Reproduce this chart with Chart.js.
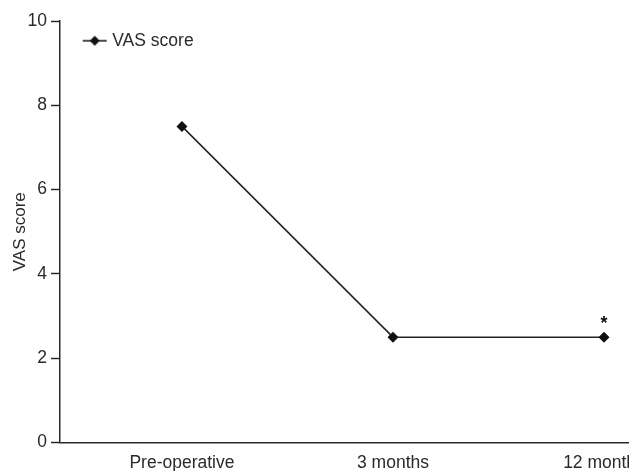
<!DOCTYPE html>
<html>
<head>
<meta charset="utf-8">
<script src="https://cdn.jsdelivr.net/npm/chart.js@4/dist/chart.umd.min.js"></script>
<style>
html,body{margin:0;padding:0;background:#fff;overflow:hidden;}
#wrap{width:629px;height:471px;overflow:hidden;position:relative;}
#c{position:absolute;left:0;top:0;}
</style>
</head>
<body>
<div id="wrap"><canvas id="c" width="700" height="471"></canvas></div>
<script>
const categories = ['Pre-operative', '3 months', '12 months'];
const vasScore = [7.5, 2.5, 2.5];
const significance = ['', '', '*'];
const yTicks = [0, 2, 4, 6, 8, 10];
const seriesName = 'VAS score';

const FONT = 'Liberation Sans, Arial, sans-serif';
const INK = '#2a2a2a';

// legend symbol: short line with a diamond in the middle
const sym = document.createElement('canvas');
sym.width = 26; sym.height = 12;
(function(){
  const g = sym.getContext('2d');
  g.strokeStyle = '#111'; g.lineWidth = 1.5;
  g.beginPath(); g.moveTo(1, 6); g.lineTo(25, 6); g.stroke();
  g.fillStyle = '#111';
  g.beginPath(); g.moveTo(13, 1); g.lineTo(18, 6); g.lineTo(13, 11); g.lineTo(8, 6); g.closePath(); g.fill();
})();

const starPlugin = {
  id: 'stars',
  beforeDraw(chart) {
    const lg = chart.legend;
    if (lg) {
      const dx = 76 - lg.left, dy = 22 - lg.top;
      lg.left += dx; lg.right += dx; lg.top += dy; lg.bottom += dy;
    }
  },
  afterDatasetsDraw(chart) {
    const meta = chart.getDatasetMeta(0);
    const ctx = chart.ctx;
    ctx.save();
    ctx.fillStyle = '#111';
    ctx.font = 'bold 18px ' + FONT;
    ctx.textAlign = 'center';
    ctx.textBaseline = 'middle';
    meta.data.forEach((pt, i) => {
      if (significance[i]) ctx.fillText(significance[i], pt.x, pt.y - 13);
    });
    ctx.restore();
  }
};

new Chart(document.getElementById('c'), {
  type: 'line',
  data: {
    datasets: [{
      label: seriesName,
      data: vasScore.map((v, i) => ({x: i, y: v})),
      borderColor: '#222',
      borderWidth: 1.5,
      backgroundColor: '#111',
      pointBackgroundColor: '#111',
      pointBorderColor: '#111',
      pointStyle: 'rectRot',
      pointRadius: 5.5,
      pointBorderWidth: 0,
      tension: 0,
      fill: false
    }]
  },
  options: {
    responsive: false,
    animation: false,
    layout: { padding: { left: 0, right: 50, top: 21, bottom: 0 } },
    plugins: {
      legend: {
        position: 'chartArea',
        align: 'start',
        labels: {
          usePointStyle: true,
          color: INK,
          font: { family: FONT, size: 17.5 },
          padding: 10,
          generateLabels: (chart) => [{
            text: seriesName,
            pointStyle: sym,
            fillStyle: '#111',
            strokeStyle: '#111',
            fontColor: INK,
            lineWidth: 0,
            datasetIndex: 0
          }]
        }
      },
      tooltip: { enabled: false }
    },
    scales: {
      x: {
        type: 'linear',
        min: -0.578,
        max: 2.218,
        afterBuildTicks: (s) => { s.ticks = categories.map((_, i) => ({value: i})); },
        afterFit: (s) => { s.height = 28.5; },
        ticks: {
          callback: (v) => categories[v] ?? '',
          color: INK,
          font: { family: FONT, size: 17.5 },
          padding: 10,
          maxRotation: 0,
          autoSkip: false
        },
        grid: { display: true, drawOnChartArea: false, drawTicks: false, color: INK },
        border: { display: true, color: INK, width: 1.5 }
      },
      y: {
        min: 0,
        max: 10,
        afterBuildTicks: (s) => { s.ticks = yTicks.map(v => ({value: v})); },
        afterFit: (s) => { s.width = 60; },
        title: {
          display: true,
          text: seriesName,
          color: INK,
          font: { family: FONT, size: 17 },
          padding: { top: 10, bottom: 0 }
        },
        ticks: {
          color: INK,
          font: { family: FONT, size: 17.5 },
          padding: 4
        },
        grid: { display: true, drawOnChartArea: false, drawTicks: true, tickLength: 9, tickWidth: 1.5, color: INK },
        border: { display: true, color: INK, width: 1.5 }
      }
    }
  },
  plugins: [starPlugin]
});
</script>
</body>
</html>
